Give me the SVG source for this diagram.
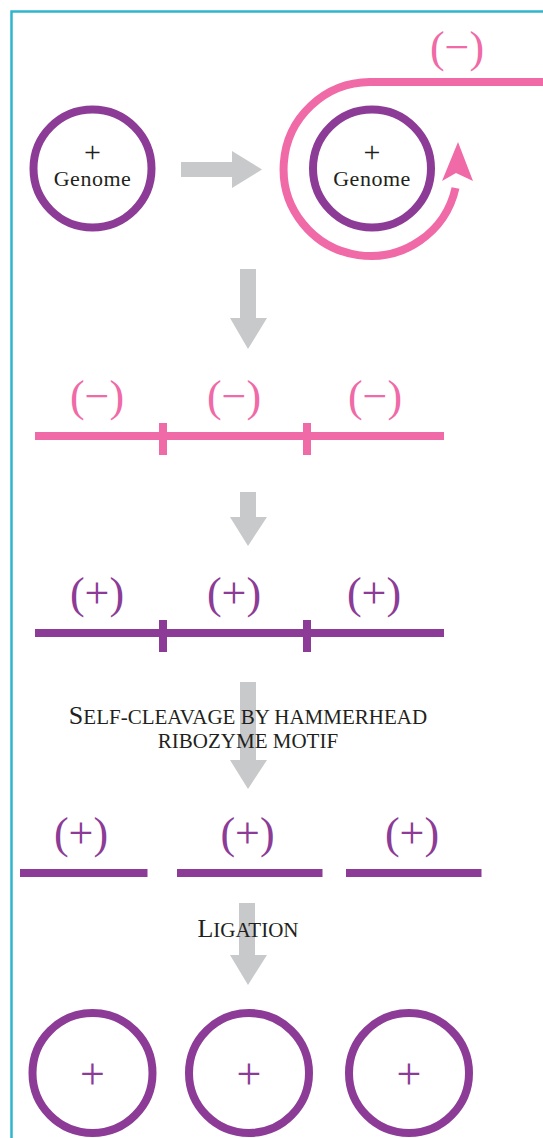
<svg xmlns="http://www.w3.org/2000/svg" width="543" height="1138" viewBox="0 0 543 1138">
<style>
.pur{fill:none;stroke:#8c3c96;stroke-width:8}
.pk{fill:none;stroke:#f06aa7;stroke-width:8}
.gray{fill:#c8c9cb}
.lab{font-family:"Liberation Serif","Times New Roman",serif;text-anchor:middle}
.dark{fill:#231f20}
.cap{font-family:"Liberation Serif","Times New Roman",serif;fill:#231f20;text-anchor:middle;font-size:21px}
.big{font-size:26px}
.sign{font-family:"Liberation Serif","Times New Roman",serif;text-anchor:middle;font-size:44px}
</style>
<rect width="543" height="1138" fill="#fff"/>
<path d="M11.5 1138 V11.5 H543" fill="none" stroke="#2fb5cc" stroke-width="2.5"/>
<g id="connectors">
<polygon class="gray" points="181,162 232,162 232,151 262,169.5 232,188 232,177 181,177"/>
<polygon class="gray" points="240,269 256,269 256,318 267,318 248,349 230,318 240,318"/>
<polygon class="gray" points="240,492 256,492 256,517 267,517 248,546 230,517 240,517"/>
<polygon class="gray" points="240,682 256,682 256,760 267,760 248,789 230,760 240,760"/>
<polygon class="gray" points="239,903 255,903 255,955 267,955 248,985 230,955 239,955"/>
</g>
<g id="genome1">
<circle class="pur" cx="92.5" cy="168.5" r="59"/>
<text class="lab dark" x="92.5" y="162" font-size="30">+</text>
<text class="lab dark" x="92.5" y="185.5" font-size="22" letter-spacing="0.5">Genome</text>
</g>
<g id="genome2">
<circle class="pur" cx="372" cy="168.5" r="59"/>
<text class="lab dark" x="372" y="162" font-size="30">+</text>
<text class="lab dark" x="372" y="185.5" font-size="22" letter-spacing="0.5">Genome</text>
</g>
<g id="minus-strand">
<path class="pk" d="M543 82 H370 A87 87 0 1 0 455.5 188"/>
<polygon fill="#f06aa7" points="458,142 473,181 456,173 442,181"/>
<text class="sign" x="457" y="62" fill="#f06aa7">(−)</text>
</g>
<g id="minus-concatemer">
<line class="pk" x1="35" y1="436" x2="444" y2="436"/>
<line class="pk" x1="163" y1="423" x2="163" y2="455"/>
<line class="pk" x1="307" y1="423" x2="307" y2="455"/>
<text class="sign" x="97" y="411" fill="#f06aa7">(−)</text>
<text class="sign" x="234" y="411" fill="#f06aa7">(−)</text>
<text class="sign" x="375" y="411" fill="#f06aa7">(−)</text>
</g>
<g id="plus-concatemer">
<line class="pur" x1="35" y1="633" x2="444" y2="633"/>
<line class="pur" x1="163" y1="620" x2="163" y2="652"/>
<line class="pur" x1="307" y1="620" x2="307" y2="652"/>
<text class="sign" x="97" y="608" fill="#8c3c96">(+)</text>
<text class="sign" x="234" y="608" fill="#8c3c96">(+)</text>
<text class="sign" x="374" y="608" fill="#8c3c96">(+)</text>
</g>
<g id="label-cleavage">
<text class="cap" x="248" y="724"><tspan class="big">S</tspan>ELF-CLEAVAGE BY HAMMERHEAD</text>
<text class="cap" x="248" y="748">RIBOZYME MOTIF</text>
</g>
<g id="monomers">
<line class="pur" x1="20" y1="873" x2="147.5" y2="873"/>
<line class="pur" x1="177" y1="873" x2="322.5" y2="873"/>
<line class="pur" x1="346" y1="873" x2="481.5" y2="873"/>
<text class="sign" x="81" y="848" fill="#8c3c96">(+)</text>
<text class="sign" x="247.5" y="848" fill="#8c3c96">(+)</text>
<text class="sign" x="412" y="848" fill="#8c3c96">(+)</text>
</g>
<g id="label-ligation">
<text class="cap" x="248" y="937"><tspan class="big">L</tspan>IGATION</text>
</g>
<g id="circle1">
<circle class="pur" cx="92.5" cy="1073" r="60"/>
<text class="sign" x="92.5" y="1089" font-size="45" fill="#8c3c96">+</text>
</g>
<g id="circle2">
<circle class="pur" cx="249" cy="1073" r="60"/>
<text class="sign" x="249" y="1089" font-size="45" fill="#8c3c96">+</text>
</g>
<g id="circle3">
<circle class="pur" cx="409" cy="1073" r="60"/>
<text class="sign" x="409" y="1089" font-size="45" fill="#8c3c96">+</text>
</g>
</svg>
